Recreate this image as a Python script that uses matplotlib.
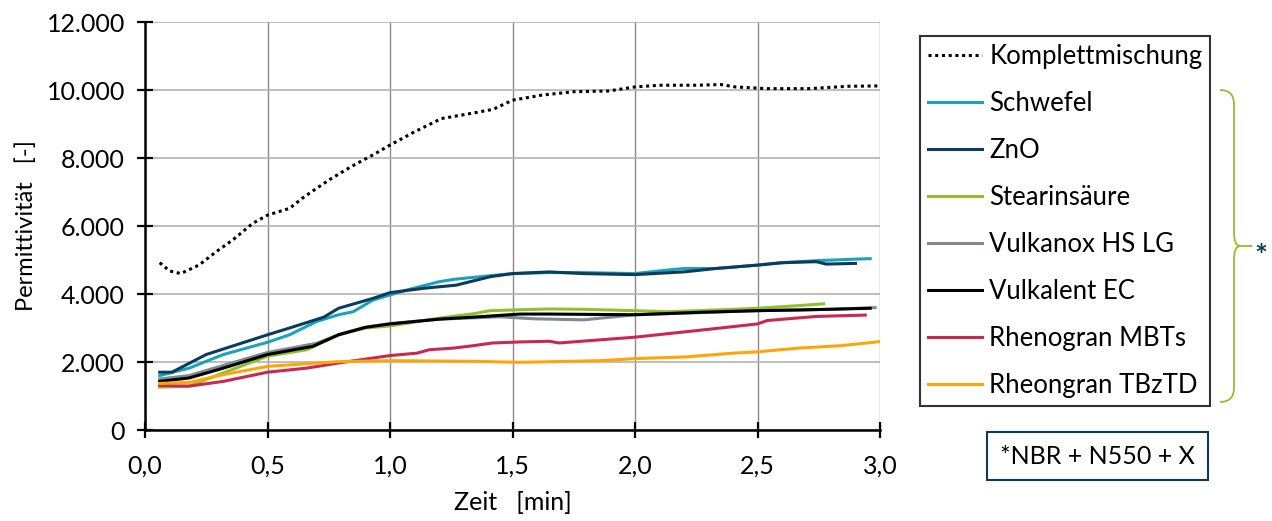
import numpy as np
import matplotlib.pyplot as plt
from matplotlib.ticker import FuncFormatter, MultipleLocator
from matplotlib.patches import Rectangle
from matplotlib.path import Path
from matplotlib.patches import PathPatch

plt.rcParams['font.family'] = ['Lato', 'DejaVu Sans']

# ---- data (Zeit in min, Permittivität) ----
komplett_x = [0.06, 0.10, 0.146, 0.22, 0.29, 0.36, 0.44, 0.50, 0.59, 0.65, 0.75, 0.84, 0.94, 1.00,
              1.10, 1.21, 1.33, 1.42, 1.50, 1.62, 1.75, 1.89, 2.00, 2.10, 2.25, 2.35, 2.41, 2.54,
              2.71, 2.87, 3.00]
komplett_y = [4920, 4680, 4600, 4850, 5240, 5600, 6080, 6320, 6520, 6860, 7350, 7740, 8130, 8380,
              8770, 9160, 9310, 9430, 9700, 9850, 9950, 9970, 10090, 10140, 10140, 10160, 10090, 10040,
              10040, 10110, 10120]

schwefel_x = [0.06, 0.18, 0.32, 0.50, 0.59, 0.70, 0.79, 0.85, 0.93, 1.00, 1.07, 1.20, 1.26, 1.34,
              1.50, 1.65, 1.79, 2.00, 2.10, 2.20, 2.33, 2.50, 2.60, 2.74, 2.88, 2.96]
schwefel_y = [1600, 1820, 2220, 2580, 2800, 3190, 3390, 3480, 3820, 3970, 4120, 4360, 4430, 4490,
              4600, 4630, 4630, 4600, 4680, 4750, 4750, 4850, 4920, 4980, 5020, 5040]

zno_x = [0.06, 0.11, 0.25, 0.50, 0.59, 0.73, 0.79, 0.93, 1.00, 1.14, 1.27, 1.41, 1.50, 1.65, 1.79,
         2.00, 2.20, 2.33, 2.50, 2.60, 2.74, 2.78, 2.90]
zno_y = [1700, 1700, 2220, 2800, 3000, 3320, 3580, 3870, 4040, 4170, 4260, 4510, 4600, 4650, 4600,
         4570, 4650, 4750, 4850, 4920, 4950, 4880, 4900]

stearin_x = [0.06, 0.18, 0.32, 0.50, 0.66, 0.79, 0.90, 1.00, 1.20, 1.34, 1.41, 1.50, 1.65, 1.79,
             2.00, 2.13, 2.33, 2.50, 2.67, 2.77]
stearin_y = [1260, 1290, 1680, 2170, 2360, 2800, 3000, 3060, 3290, 3420, 3510, 3530, 3560, 3550,
             3510, 3480, 3530, 3580, 3660, 3710]

vulkanox_x = [0.06, 0.18, 0.32, 0.50, 0.70, 0.80, 0.90, 1.00, 1.20, 1.45, 1.59, 1.79, 1.86, 2.00,
              2.50, 2.81, 2.98]
vulkanox_y = [1500, 1600, 1900, 2280, 2550, 2830, 3020, 3130, 3260, 3330, 3270, 3240, 3290, 3390,
              3510, 3550, 3600]

vulkalent_x = [0.06, 0.18, 0.32, 0.50, 0.685, 0.79, 0.90, 1.00, 1.20, 1.34, 1.53, 1.65, 2.00, 2.26,
               2.50, 2.67, 2.96]
vulkalent_y = [1430, 1530, 1820, 2220, 2460, 2800, 3020, 3120, 3260, 3320, 3410, 3410, 3390, 3460,
               3510, 3530, 3580]

mbts_x = [0.06, 0.18, 0.32, 0.50, 0.66, 0.79, 1.00, 1.11, 1.16, 1.26, 1.34, 1.42, 1.53, 1.65, 1.69,
          2.00, 2.26, 2.50, 2.54, 2.74, 2.94]
mbts_y = [1310, 1290, 1430, 1700, 1820, 1970, 2190, 2260, 2360, 2410, 2480, 2560, 2590, 2610, 2560,
          2730, 2930, 3120, 3220, 3340, 3380]

tbztd_x = [0.06, 0.18, 0.32, 0.50, 0.66, 0.79, 1.00, 1.34, 1.53, 1.86, 2.00, 2.21, 2.40, 2.50, 2.67,
           2.84, 3.00]
tbztd_y = [1370, 1400, 1630, 1870, 1950, 2010, 2040, 2020, 1990, 2040, 2100, 2150, 2260, 2300, 2410,
           2480, 2600]

series = [
    ("Schwefel", schwefel_x, schwefel_y, "#1aa3bd"),
    ("ZnO", zno_x, zno_y, "#0d3c5a"),
    ("Stearinsäure", stearin_x, stearin_y, "#92c02c"),
    ("Vulkanox HS LG", vulkanox_x, vulkanox_y, "#7d8a94"),
    ("Vulkalent EC", vulkalent_x, vulkalent_y, "#000000"),
    ("Rhenogran MBTs", mbts_x, mbts_y, "#c8294f"),
    ("Rheongran TBzTD", tbztd_x, tbztd_y, "#ffa50a"),
]

W, H = 1272, 521
fig = plt.figure(figsize=(W / 100, H / 100), dpi=100)
ax = fig.add_axes([145 / W, 1 - 430 / H, (880 - 145) / W, (430 - 22) / H])

ax.plot(komplett_x, komplett_y, color="black", lw=2.2, linestyle=(0, (1, 1.2)),
        label="Komplettmischung")
for name, xs, ys, c in series:
    ax.plot(xs, ys, color=c, lw=2.2, label=name)

ax.set_xlim(0, 3)
ax.set_ylim(0, 12000)
ax.xaxis.set_major_locator(MultipleLocator(0.5))
ax.yaxis.set_major_locator(MultipleLocator(2000))
ax.xaxis.set_major_formatter(FuncFormatter(lambda v, p: f"{v:.1f}".replace(".", ",")))
ax.yaxis.set_major_formatter(FuncFormatter(lambda v, p: f"{int(v):,}".replace(",", ".")))
ax.grid(axis="y", color="#b4b4b4", lw=1.2)
ax.grid(axis="x", color="#8a8a8a", lw=1.0)
ax.set_axisbelow(True)
for s in ("top", "right"):
    ax.spines[s].set_visible(False)
for s in ("left", "bottom"):
    ax.spines[s].set_linewidth(1.8)
ax.tick_params(direction="inout", length=11, width=1.6, labelsize=18)
ax.tick_params(axis="y", pad=9)
ax.tick_params(axis="x", pad=12)

ax.set_xlabel("Zeit   [min]", fontsize=18, labelpad=10)
ax.set_ylabel("Permittivität   [-]", fontsize=17, labelpad=7)

leg = ax.legend(loc="upper left", bbox_to_anchor=(920 / W, 1 - 36 / H), bbox_transform=fig.transFigure,
                fontsize=18.5, frameon=True, fancybox=False, edgecolor="black", borderpad=0.3,
                labelspacing=0.86, handlelength=2.1, handletextpad=0.3, borderaxespad=0)
leg.get_frame().set_linewidth(1.5)

# overlay in pixel coordinates for bracket and note box
ov = fig.add_axes([0, 0, 1, 1], facecolor="none")
ov.set_xlim(0, W)
ov.set_ylim(H, 0)
ov.axis("off")

verts = [(1220, 90), (1234, 90), (1234, 104), (1234, 232),
         (1234, 246), (1240, 246), (1252, 246),
         (1240, 246), (1234, 246), (1234, 260),
         (1234, 388), (1234, 402), (1220, 402)]
codes = [Path.MOVETO, Path.CURVE3, Path.CURVE3, Path.LINETO,
         Path.CURVE3, Path.CURVE3, Path.LINETO,
         Path.MOVETO, Path.CURVE3, Path.CURVE3,
         Path.LINETO, Path.CURVE3, Path.CURVE3]
ov.add_patch(PathPatch(Path(verts, codes), fill=False, edgecolor="#92c02c", lw=1.3))
ov.text(1261, 257, "*", color="#0d3c5a", fontsize=22, ha="center", va="center", fontweight="bold")

ov.add_patch(Rectangle((987, 432), 221, 48, fill=False, edgecolor="#0d3c5a", lw=1.5))
ov.text(1097, 457, "*NBR + N550 + X", fontsize=18, ha="center", va="center")

fig.savefig("out.png", dpi=100)
